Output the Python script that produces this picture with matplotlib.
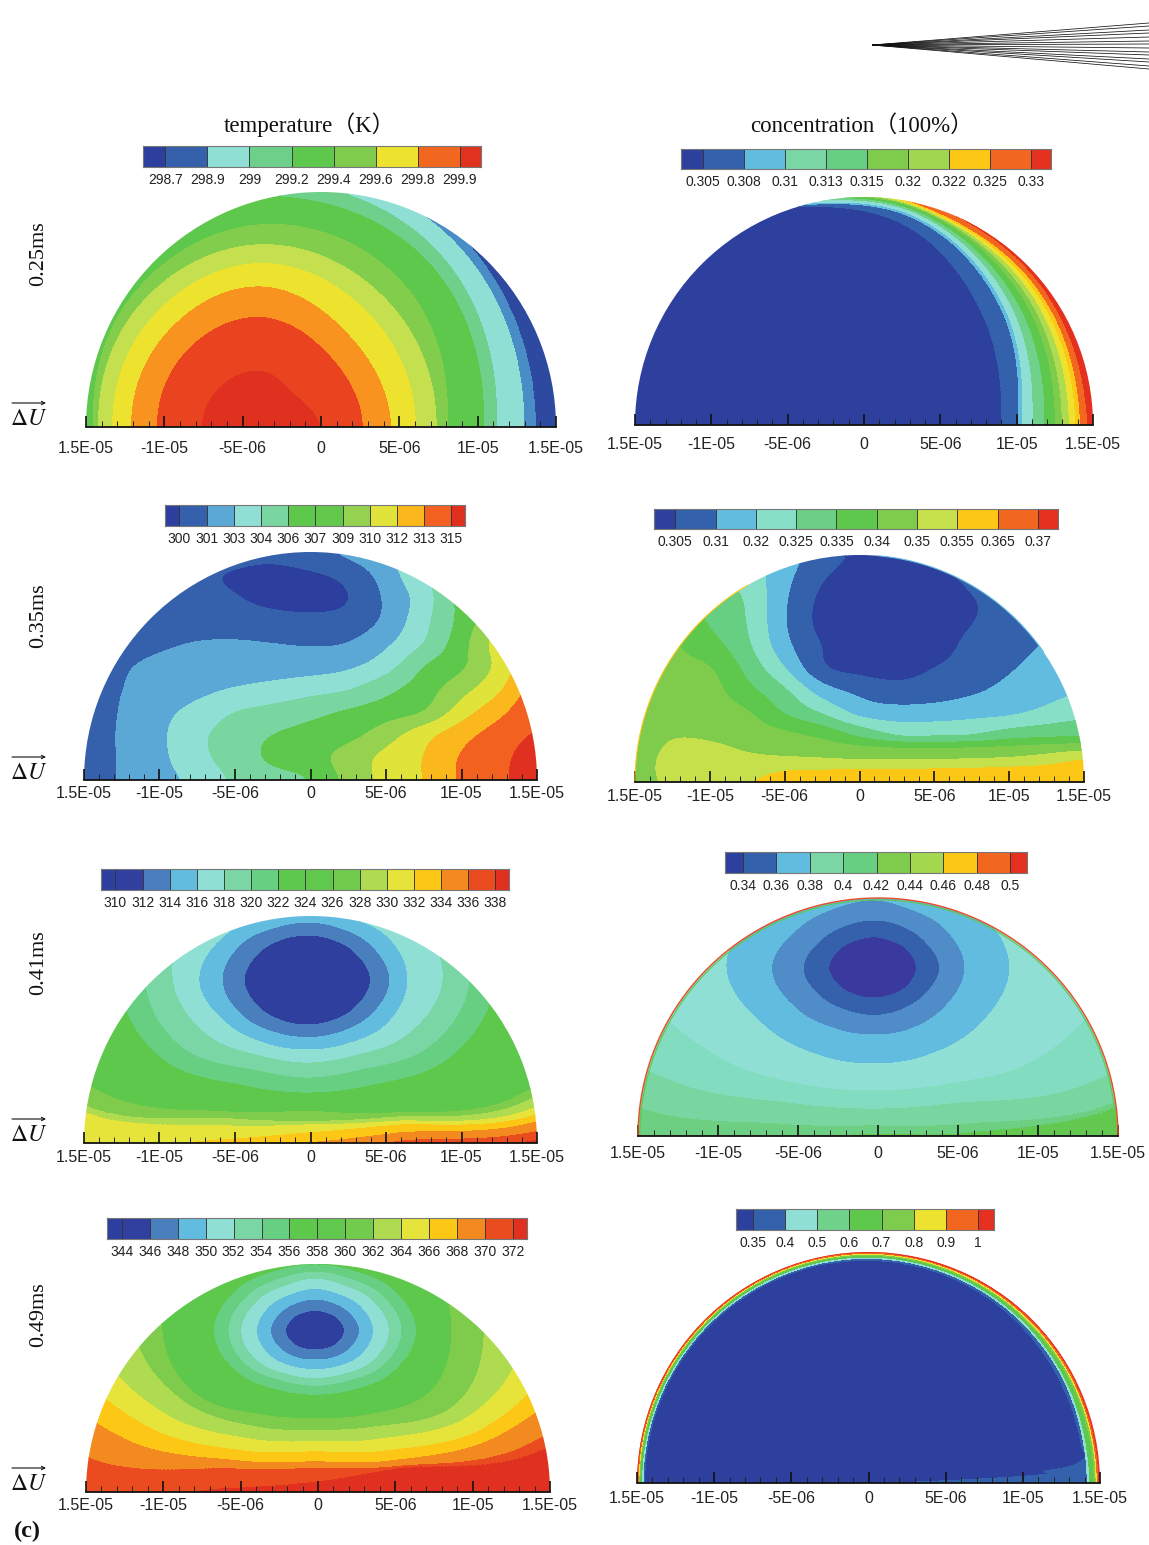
import numpy as np
import matplotlib
matplotlib.use("Agg")
import matplotlib.pyplot as plt
from matplotlib.patches import Circle

# figure size in pixels
W = 1149
H = 1545
R_M = 1.5e-5

TICKS = [-1.5e-5, -1e-5, -5e-6, 0, 5e-6, 1e-5, 1.5e-5]
TICK_LABELS = ["1.5E-05", "-1E-05", "-5E-06", "0", "5E-06", "1E-05", "1.5E-05"]
MINOR = [i * 1e-6 for i in range(-15, 16)]

# ---- colour bars: labels and colours
T1_LABELS = ["298.7", "298.9", "299", "299.2", "299.4", "299.6", "299.8", "299.9"]
T1_BAR = ["#2d3f9e", "#3560ab", "#8fdfd5", "#6dd08a", "#5ec84c", "#7fcc4c", "#ede32f", "#f2671f", "#e0331f"]
C1_LABELS = ["0.305", "0.308", "0.31", "0.313", "0.315", "0.32", "0.322", "0.325", "0.33"]
C1_BAR = ["#2e409e", "#3461ab", "#62bce0", "#7ad6a5", "#66cf82", "#7fcc4c", "#9fd74f", "#fcc815", "#f2671f", "#e3301f"]
T2_LABELS = ["300", "301", "303", "304", "306", "307", "309", "310", "312", "313", "315"]
T2_BAR = ["#2d3f9e", "#3560ab", "#5ba8d6", "#8fdfd5", "#7ad6a0", "#5ec84c", "#62c84c", "#95d24f", "#e0e43a", "#fbb81c", "#f2611f", "#e0301f"]
C2_LABELS = ["0.305", "0.31", "0.32", "0.325", "0.335", "0.34", "0.35", "0.355", "0.365", "0.37"]
C2_BAR = ["#2e409e", "#3461ab", "#62bce0", "#88dfc8", "#6ccf86", "#5ec84c", "#7fcc4c", "#c5e04a", "#fcc815", "#f2671f", "#e3301f"]
T3_LABELS = ["310", "312", "314", "316", "318", "320", "322", "324", "326", "328", "330", "332", "334", "336", "338"]
T3_BAR = ["#2d3f9e", "#31409e", "#4a7fbd", "#62bce0", "#8fdfd5", "#7ad6a5", "#66cf82", "#5ec84c", "#60c84c", "#72cb4d",
          "#aedb4f", "#e6e43a", "#fcc815", "#f38a20", "#ea4c20", "#e0301f"]
C3_LABELS = ["0.34", "0.36", "0.38", "0.4", "0.42", "0.44", "0.46", "0.48", "0.5"]
C3_BAR = ["#2e409e", "#3461ab", "#62bce0", "#7ad6a5", "#66cf82", "#7fcc4c", "#a3d84f", "#fcc815", "#f2671f", "#e3301f"]
T4_LABELS = ["344", "346", "348", "350", "352", "354", "356", "358", "360", "362", "364", "366", "368", "370", "372"]
T4_BAR = T3_BAR
C4_LABELS = ["0.35", "0.4", "0.5", "0.6", "0.7", "0.8", "0.9", "1"]
C4_BAR = ["#2e409e", "#3461ab", "#8fdfd5", "#6fd18a", "#5ec84c", "#7fcc4c", "#ede32f", "#f2671f", "#e3301f"]

# ---- fields
# ray tables: distance (in drop radii) from a centre point to each colour
# boundary, one row per boundary, one column per ray
T1_COLORS = ["#e0301f", "#e9431f", "#f7931e", "#ede32f", "#c5e04f", "#82cd4c", "#5ec84c", "#6ed08a", "#8fdfd5", "#4a8cc5", "#2d4aa0"]
T1_CENTER = (-0.25, 0.0)
T1_RAYS = [0, 45, 90, 135, 180]
T1_CROSS = [
    [.25, .20, .24, .25, .26],
    [.43, .42, .47, .46, .45],
    [.55, .54, .60, .575, .56],
    [.656, .665, .70, .665, .64],
    [.744, .76, .78, .74, .70],
    [.79, .86, .865, .79, .72],
    [.945, 1.0, .985, .98, .98],
    [1.0, 1.06, 1.05, 1.05, 1.05],
    [1.117, 1.14, 1.10, 1.10, 1.10],
    [1.165, 1.175, 1.15, 1.15, 1.15],
]

C1_COLORS = ["#2e409e", "#3461ab", "#62bce0", "#8fdfd5", "#6fd18a", "#5ec84c", "#7fcc4c", "#aedb4f", "#ede32f", "#fcc815", "#f2671f", "#e3301f"]
C1_CENTER = (-0.3, 0.0)
C1_RAYS = [0, 30, 60, 90, 120, 150, 180]
C1_CROSS = [
    [.90, .95, 1.0, .96, .98, .98, .98],
    [.973, 1.035, 1.045, .965, .985, .985, .985],
    [.99, 1.05, 1.055, .97, .99, .99, .99],
    [1.037, 1.08, 1.07, .98, 1.0, 1.0, 1.0],
    [1.09, 1.11, 1.08, .99, 1.01, 1.01, 1.01],
    [1.136, 1.14, 1.09, 1.0, 1.02, 1.02, 1.02],
    [1.166, 1.16, 1.095, 1.01, 1.03, 1.03, 1.03],
    [1.197, 1.18, 1.10, 1.02, 1.04, 1.04, 1.04],
    [1.225, 1.20, 1.105, 1.03, 1.05, 1.05, 1.05],
    [1.245, 1.215, 1.11, 1.04, 1.06, 1.06, 1.06],
    [1.275, 1.235, 1.13, 1.05, 1.07, 1.07, 1.07],
]

# grid tables: band number at each grid point, rows from bottom to top
T2_COLORS = ["#2d3f9e", "#3560ab", "#5ba8d6", "#8fdfd5", "#7ad6a0", "#5ec84c", "#95d24f", "#e0e43a", "#fbb81c", "#f2611f", "#e0301f"]
T2_U = [i / 6 for i in range(-6, 7)]
T2_V = [0, .1, .2, .3, .4, .5, .6, .7, .8, .9, 1]
T2_GRID = [
    [1.5, 2.1, 2.63, 3.3, 4.15, 4.6, 5.0, 6.3, 7.3, 8.0, 9.15, 9.8, 10.5],
    [1.2, 2.15, 2.75, 3.7, 4.45, 5.2, 5.6, 6.4, 7.25, 8.0, 9.1, 9.75, 10.4],
    [1.3, 2.15, 2.8, 3.75, 4.45, 5.0, 5.3, 5.65, 6.5, 7.6, 8.6, 9.45, 10.1],
    [1.2, 2.1, 2.7, 3.3, 4.0, 4.3, 4.7, 5.1, 5.5, 5.95, 7.5, 8.7, 9.8],
    [1.2, 2.0, 2.35, 2.7, 3.05, 3.3, 3.6, 3.9, 4.7, 5.5, 6.6, 7.8, 9.5],
    [1.2, 1.85, 2.25, 2.4, 2.45, 2.5, 2.55, 2.8, 3.55, 5.0, 5.8, 7.3, 9.0],
    [1.1, 1.4, 1.8, 2.05, 2.1, 2.0, 1.9, 2.0, 2.8, 4.0, 5.6, 7.5, 9.0],
    [1.1, 1.2, 1.4, 1.45, 1.4, 1.3, 1.25, 1.35, 2.2, 3.7, 5.3, 7.0, 8.5],
    [1.2, 1.4, 1.5, 1.3, 1.05, .75, .6, .95, 2.15, 3.5, 5.3, 6.5, 8.0],
    [1.5, 1.5, 1.4, 1.2, .9, .7, .85, 1.3, 2.45, 3.9, 5.0, 6.0, 7.5],
    [1.5, 1.5, 1.5, 1.5, 1.4, 1.3, 1.7, 2.2, 3.0, 4.0, 5.0, 6.0, 7.0],
]

C2_COLORS = ["#2e409e", "#3461ab", "#62bce0", "#88dfc8", "#66cf82", "#5ec84c", "#7fcc4c", "#c5e04a", "#fcc815"]
C2_U = [i / 6 for i in range(-6, 7)]
C2_V = [0, .05, .1, .15, .2, .3, .4, .5, .6, .7, .8, .9, 1]
C2_GRID = [
    [6.5, 7.3, 7.5, 7.95, 8.2, 8.3, 8.35, 8.35, 8.35, 8.4, 8.45, 8.55, 8.7],
    [6.5, 7.4, 7.55, 7.7, 8.0, 8.05, 8.1, 8.15, 8.15, 8.2, 8.3, 8.4, 8.6],
    [6.5, 7.35, 7.4, 7.25, 7.2, 7.1, 6.95, 6.95, 6.95, 7.05, 7.15, 7.45, 8.0],
    [6.4, 7.2, 7.2, 6.85, 6.5, 6.3, 6.2, 6.0, 5.95, 6.05, 6.2, 6.4, 6.6],
    [6.3, 6.95, 6.85, 6.55, 6.3, 5.85, 4.95, 4.05, 4.05, 4.1, 4.65, 4.9, 5.05],
    [6.2, 6.4, 6.5, 6.15, 4.95, 4.0, 2.72, 2.45, 2.5, 2.7, 2.85, 3.3, 3.7],
    [6.2, 6.3, 6.35, 5.3, 4.2, 2.5, 1.75, 1.4, 1.55, 1.85, 2.3, 2.7, 3.0],
    [6.2, 6.15, 6.1, 4.7, 3.05, 1.1, .75, .6, 1.02, 1.4, 1.9, 2.4, 3.0],
    [6.2, 6.1, 5.4, 4.2, 2.3, .95, .6, .45, .6, 1.25, 1.65, 2.1, 3.0],
    [6.0, 5.8, 4.9, 4.0, 2.05, .7, .5, .4, .55, .98, 1.35, 1.7, 2.5],
    [6.0, 5.5, 4.7, 3.9, 2.1, .75, .5, .4, .55, .95, 1.3, 1.6, 2.0],
    [5.5, 5.0, 4.2, 3.6, 2.3, 1.05, .6, .5, .7, 1.2, 1.6, 2.0, 2.5],
    [5.0, 4.5, 4.0, 3.4, 2.5, 1.5, .8, .8, 1.2, 1.6, 2.0, 2.5, 3.0],
]

T3_COLORS = ["#2f3f9e", "#4a7fbd", "#62bce0", "#8fdfd5", "#7ad6a5", "#66cf82", "#5ec84c", "#7fcc4c", "#aedb4f", "#e6e43a",
             "#fcc815", "#f38a20", "#ea4c20", "#e0301f"]
T3_CENTER = (-0.015, 0.718)
T3_RAYS = list(range(0, 360, 30))
T3_CROSS = [
    [.28, .245, .21, .198, .21, .245, .278, .245, .21, .198, .21, .245],
    [.365, .32, .27, .255, .27, .33, .375, .325, .27, .253, .27, .32],
    [.445, .40, .32, .285, .325, .41, .478, .40, .33, .308, .33, .40],
    [.60, .54, .41, .37, .42, .56, .595, .50, .39, .366, .39, .50],
    [.72, .66, .50, .45, .51, .66, .717, .62, .46, .432, .46, .61],
    [.83, .75, .6, .55, .6, .75, .83, .72, .54, .498, .54, .71],
    [1.3, 1.1, .8, .7, .8, 1.1, 1.3, 1.02, .673, .579, .68, 1.05],
    [1.4, 1.2, .9, .8, .9, 1.2, 1.4, 1.12, .705, .623, .70, 1.09],
    [1.5, 1.3, 1.0, .9, 1.0, 1.3, 1.5, 1.15, .74, .638, .72, 1.14],
    [1.7, 1.4, 1.1, 1.0, 1.1, 1.4, 2.0, 1.55, .815, .674, .74, 1.18],
    [1.8, 1.5, 1.2, 1.1, 1.2, 1.5, 2.1, 1.7, .86, .718, .78, 1.22],
    [1.9, 1.6, 1.3, 1.2, 1.3, 1.6, 2.2, 1.8, .92, .76, .82, 1.28],
    [2.0, 1.7, 1.4, 1.3, 1.4, 1.7, 2.3, 1.9, 1.0, .82, .88, 1.32],
]

C3_COLORS = ["#3a3a9e", "#3560ab", "#4f8cc8", "#62bce0", "#8fdfd5", "#82dcc0", "#7ad6a0", "#6ccf82", "#62c850"]
C3_CENTER = (-0.02, 0.707)
C3_RAYS = list(range(0, 360, 30))
C3_CROSS = [
    [.18, .16, .135, .13, .135, .16, .185, .16, .135, .127, .135, .16],
    [.277, .24, .21, .20, .21, .245, .292, .25, .21, .20, .21, .24],
    [.382, .34, .29, .285, .295, .35, .423, .36, .30, .282, .30, .34],
    [.569, .50, .42, .40, .43, .53, .613, .51, .43, .404, .43, .50],
    [1.0, .95, .85, .80, .85, .95, 1.0, .75, .57, .517, .57, .78],
    [1.5, 1.3, 1.2, 1.15, 1.2, 1.3, 1.5, .96, .66, .594, .66, 1.0],
    [1.7, 1.5, 1.3, 1.25, 1.3, 1.5, 1.7, 1.16, .76, .665, .76, 1.15],
    [1.9, 1.7, 1.4, 1.35, 1.4, 1.7, 1.9, 1.4, .82, .70, .80, 1.17],
]

T4_COLORS = T3_COLORS
T4_CENTER = (-0.013, 0.708)
T4_RAYS = list(range(0, 360, 30))
T4_CROSS = [
    [.127, .112, .094, .088, .094, .112, .127, .112, .092, .085, .092, .112],
    [.192, .168, .144, .138, .144, .168, .192, .168, .14, .129, .14, .168],
    [.252, .224, .19, .185, .19, .224, .252, .224, .185, .17, .185, .224],
    [.32, .28, .235, .23, .235, .28, .32, .28, .225, .21, .225, .28],
    [.375, .327, .272, .26, .272, .327, .375, .327, .26, .244, .26, .327],
    [.437, .38, .31, .292, .31, .38, .437, .38, .305, .283, .305, .38],
    [.59, .56, .42, .40, .45, .62, .66, .58, .43, .385, .43, .56],
    [.73, .70, .60, .55, .60, .75, .78, .64, .49, .437, .49, .68],
    [.90, .80, .70, .65, .70, .85, .95, .74, .55, .488, .55, .76],
    [1.05, .90, .80, .75, .80, .95, 1.10, .84, .61, .532, .61, .85],
    [1.20, 1.0, .90, .85, .90, 1.05, 1.25, .95, .66, .576, .66, .92],
    [1.35, 1.10, 1.0, .95, 1.0, 1.15, 1.40, 1.12, .70, .605, .69, 1.03],
    [1.5, 1.2, 1.1, 1.05, 1.1, 1.3, 1.7, 1.5, .80, .665, .70, 1.08],
]

C4_COLORS = ["#2e409e", "#3461ab", "#8fdfd5", "#5ec84c", "#7fcc4c", "#ede32f", "#f2671f", "#e8352a"]
C4_CENTER = (0.0, 0.0)
C4_RAYS = [0, 2, 4, 6, 10, 30, 60, 90, 120, 150, 180]
C4_CROSS = [
    [.10, .45, .78, .93, .935, .94, .955, .965, .968, .968, .968],
    [.945, .945, .945, .945, .945, .955, .965, .972, .974, .974, .974],
    [.955, .955, .955, .955, .955, .963, .972, .978, .98, .98, .98],
    [.975, .975, .975, .975, .975, .978, .982, .985, .988, .988, .988],
    [.983, .983, .983, .983, .983, .985, .987, .99, .992, .992, .992],
    [.988, .988, .988, .988, .988, .99, .992, .994, .995, .995, .995],
    [.994, .994, .994, .994, .994, .995, .996, .997, .998, .998, .998],
]


def spline(a, t, closed=False):
    # Catmull-Rom along the last axis of a, at index positions t
    a = np.asarray(a, dtype=float)
    m = a.shape[-1]
    i = np.floor(t).astype(int)
    s = t - i
    if closed:
        pick = lambda j: j % m
    else:
        pick = lambda j: np.clip(j, 0, m - 1)
    p0 = a[..., pick(i - 1)]
    p1 = a[..., pick(i)]
    p2 = a[..., pick(i + 1)]
    p3 = a[..., pick(i + 2)]
    return 0.5 * (2 * p1 + (p2 - p0) * s + (2 * p0 - 5 * p1 + 4 * p2 - p3) * s ** 2
                  + (3 * p1 - p0 - 3 * p2 + p3) * s ** 3)


def blur(f, size):
    # box blur along the first axis, done twice
    kernel = np.ones(size) / size
    for _ in range(2):
        pad = np.pad(f, ((size // 2, size // 2), (0, 0)), mode="edge")
        f = np.apply_along_axis(lambda c: np.convolve(c, kernel, mode="valid"), 0, pad)
    return f


def ray_field(center, rays, cross):
    m = len(rays)
    closed = len(rays) == 12
    if closed:
        t = np.linspace(0, m, 480)
        theta = np.interp(t, np.arange(m + 1), list(rays) + [360])
    else:
        t = np.linspace(0, m - 1, 480)
        theta = np.interp(t, np.arange(m), rays)
    # splining 1/r keeps flat and elliptic boundaries from waving between rays
    c = 1 / np.clip(spline(1 / np.asarray(cross, dtype=float), t, closed), 0.1, None)
    c = np.maximum.accumulate(c, axis=0)
    k = c.shape[0]
    r = np.linspace(0, 2.6, 1300)
    f = np.zeros((len(t), len(r)))
    for j in range(len(t)):
        xp = np.concatenate([[0], c[:, j], [max(3.0, c[-1, j] + 0.1)]])
        fp = np.arange(k + 2)
        f[j] = np.interp(r, xp, fp)
    th = np.radians(theta)[:, None]
    x = (center[0] + r[None, :] * np.cos(th)) * R_M
    y = (center[1] + r[None, :] * np.sin(th)) * R_M
    return x, y, f, k


def grid_field(u, v, grid, bands):
    g = np.asarray(grid, dtype=float)
    tc = np.linspace(0, len(u) - 1, 400)
    tr = np.linspace(0, len(v) - 1, 400)
    f = spline(g, tc)
    f = spline(f.T, tr).T
    f = blur(f, 15)
    f = blur(f.T, 19).T
    x = np.interp(tc, np.arange(len(u)), u) * R_M
    y = np.interp(tr, np.arange(len(v)), v) * R_M
    return x, y, f, bands - 1


def px_axes(fig, left, right, top, bottom):
    return fig.add_axes([left / W, 1 - bottom / H, (right - left) / W, (bottom - top) / H])


def draw_panel(fig, box, pad, field, colors, rims=()):
    left, right, base, top = box
    ax = px_axes(fig, left, right, top, base)
    ax.patch.set_alpha(0)
    x, y, f, k = field
    cs = ax.contourf(x, y, f, levels=np.arange(1, k + 1), colors=colors, extend="both")
    cs.set_clip_path(Circle((0, 0), R_M, transform=ax.transData))
    for t0, t1, col, lw, rad in rims:
        a = np.radians(np.linspace(t0, t1, 200))
        ax.plot(rad * R_M * np.cos(a), rad * R_M * np.sin(a), color=col, lw=lw, clip_on=False)
    ax.set_xlim(-R_M, R_M)
    ax.set_ylim(0, R_M)
    for s in ["left", "right", "top"]:
        ax.spines[s].set_visible(False)
    ax.spines["bottom"].set_linewidth(1.3)
    ax.spines["bottom"].set_color("#111111")
    ax.set_yticks([])
    ax.set_xticks(TICKS)
    ax.set_xticklabels(TICK_LABELS, fontsize=11.5, color="#222222")
    ax.set_xticks(MINOR, minor=True)
    ax.tick_params(axis="x", which="major", direction="in", length=8, width=1.2, pad=pad, color="#111111")
    ax.tick_params(axis="x", which="minor", direction="in", length=4.5, width=0.7, color="#222222")
    return ax


def draw_bar(fig, box, labels, colors):
    left, right, top, bottom = box
    ax = px_axes(fig, left, right, top, bottom)
    n = len(labels)
    edges = np.array([-0.53] + list(np.arange(n - 1) + 0.0) + [n - 1, n - 0.5])
    ax.bar(edges[:-1], 1, width=np.diff(edges), align="edge", color=colors, edgecolor="#333333", linewidth=0.6)
    ax.set_xlim(edges[0], edges[-1])
    ax.set_ylim(0, 1)
    for s in ax.spines.values():
        s.set_color("#777777")
        s.set_linewidth(0.8)
    ax.set_yticks([])
    ax.set_xticks(np.arange(n))
    ax.set_xticklabels(labels, fontsize=10, color="#222222")
    ax.tick_params(axis="x", length=0, pad=4)


def main():
    plt.rcParams["font.family"] = ["Liberation Sans", "DejaVu Sans"]
    plt.rcParams["mathtext.fontset"] = "stix"
    fig = plt.figure(figsize=(W / 100, H / 100), dpi=100)

    draw_panel(fig, (86, 556, 427, 192), 10, ray_field(T1_CENTER, T1_RAYS, T1_CROSS), T1_COLORS)
    draw_panel(fig, (635, 1093, 425, 197), 8.6, ray_field(C1_CENTER, C1_RAYS, C1_CROSS), C1_COLORS)
    draw_panel(fig, (84, 537, 780, 552), 4.3, grid_field(T2_U, T2_V, T2_GRID, len(T2_COLORS)), T2_COLORS)
    draw_panel(fig, (635, 1084, 782, 555), 5, grid_field(C2_U, C2_V, C2_GRID, len(C2_COLORS)), C2_COLORS,
               rims=[(120, 180, "#fcc815", 0.8, 1.0), (35, 85, "#62bce0", 0.8, 1.0)])
    draw_panel(fig, (84, 537, 1143, 916), 5, ray_field(T3_CENTER, T3_RAYS, T3_CROSS), T3_COLORS)
    draw_panel(fig, (638, 1118, 1136, 898), 7, ray_field(C3_CENTER, C3_RAYS, C3_CROSS), C3_COLORS,
               rims=[(0, 180, "#5ec84c", 0.8, 0.992), (0, 180, "#ee4a2a", 1.0, 1.0)])
    draw_panel(fig, (86, 550, 1492, 1264), 4.3, ray_field(T4_CENTER, T4_RAYS, T4_CROSS), T4_COLORS)
    draw_panel(fig, (637, 1100, 1483, 1252), 5.8, ray_field(C4_CENTER, C4_RAYS, C4_CROSS), C4_COLORS)

    draw_bar(fig, (143, 481, 146, 167), T1_LABELS, T1_BAR)
    draw_bar(fig, (681, 1051, 149, 169), C1_LABELS, C1_BAR)
    draw_bar(fig, (165, 465, 505, 526), T2_LABELS, T2_BAR)
    draw_bar(fig, (654, 1058, 509, 529), C2_LABELS, C2_BAR)
    draw_bar(fig, (101, 509, 869, 890), T3_LABELS, T3_BAR)
    draw_bar(fig, (725, 1027, 852, 873), C3_LABELS, C3_BAR)
    draw_bar(fig, (107, 527, 1218, 1239), T4_LABELS, T4_BAR)
    draw_bar(fig, (736, 994, 1209, 1230), C4_LABELS, C4_BAR)

    # everything else goes on one overlay in pixel coordinates
    over = fig.add_axes([0, 0, 1, 1])
    over.set_xlim(0, W)
    over.set_ylim(H, 0)
    over.axis("off")
    over.patch.set_alpha(0)

    serif = ["Liberation Serif", "Noto Sans CJK SC"]
    over.text(310, 125, "temperature（K）", family=serif, fontsize=16.5, ha="center", va="center", color="#111111")
    over.text(862, 126, "concentration（100%）", family=serif, fontsize=16.5, ha="center", va="center", color="#111111")

    rows = [("0.25ms", 254, 417), ("0.35ms", 616, 771), ("0.41ms", 963, 1133), ("0.49ms", 1315, 1482)]
    for name, ytext, yu in rows:
        over.text(39, ytext, name, family=serif, fontsize=16, rotation=90, ha="center", va="center", color="#111111")
        over.text(29, yu + 2, r"$\Delta U$", fontsize=17, ha="center", va="center", color="#111111")
        over.annotate("", xy=(46, yu - 14), xytext=(12, yu - 14),
                      arrowprops=dict(arrowstyle="->", lw=0.8, color="#111111", mutation_scale=6, shrinkA=0, shrinkB=0))

    over.text(14, 1531, "(c)", family=serif, fontsize=17.5, fontweight="bold", ha="left", va="center", color="#111111")

    # the fan of lines top right
    fan_y = [23, 26, 30, 33, 37, 41, 44, 48, 52, 55, 59, 62, 66, 69]
    for y in fan_y:
        over.plot([872, W], [45, y], color="#111111", lw=0.55, solid_capstyle="butt")

    fig.savefig("out.png", dpi=100)


if __name__ == "__main__":
    main()
